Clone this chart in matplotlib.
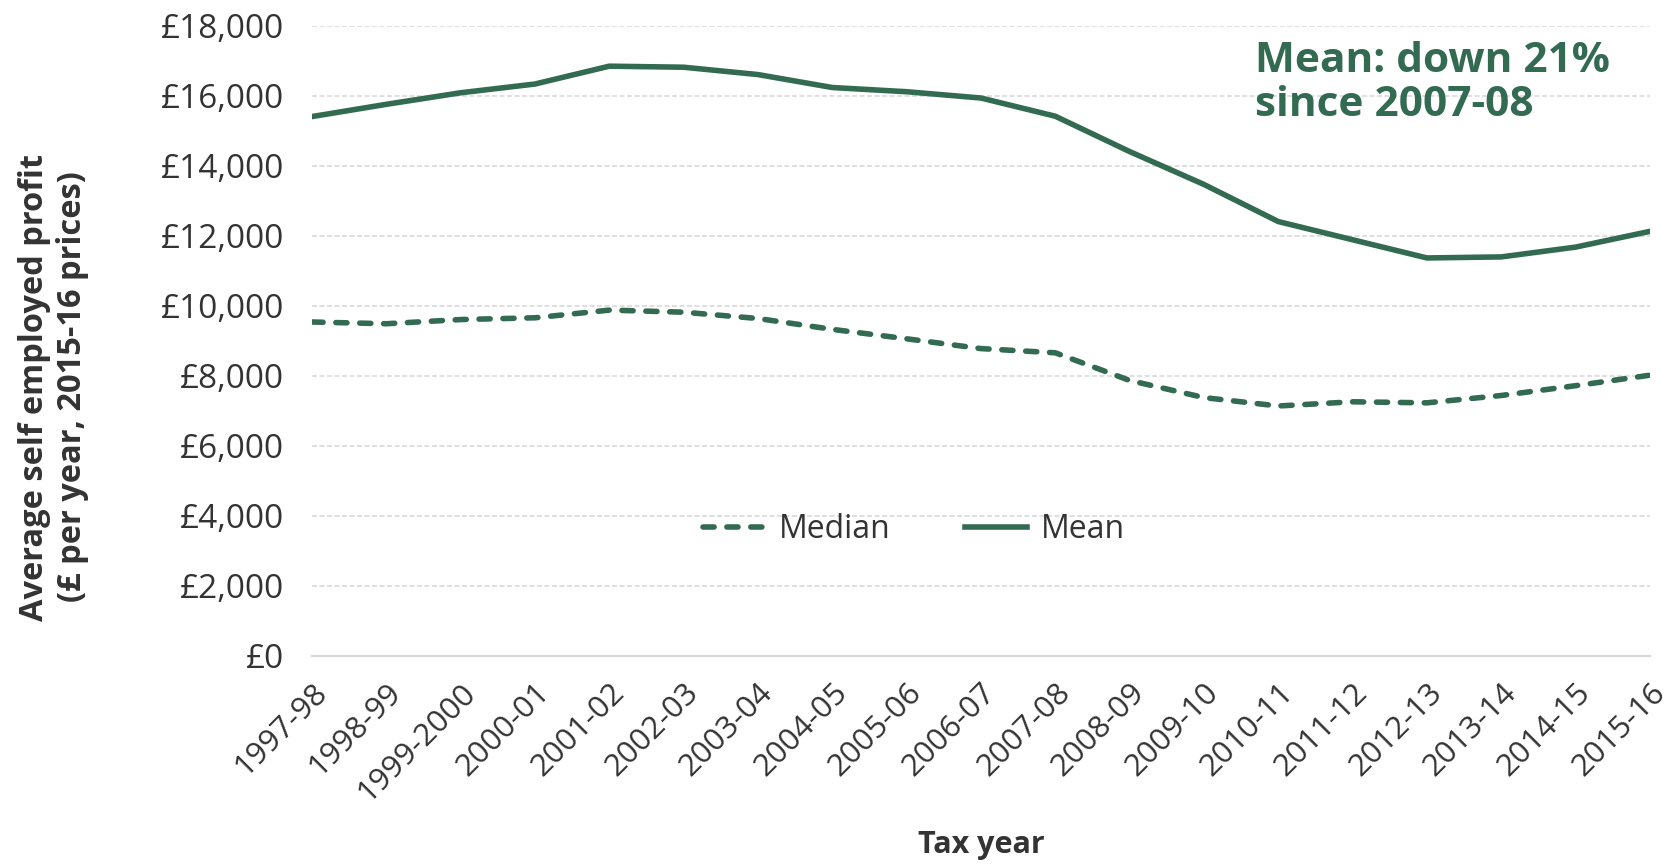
import numpy as np
import matplotlib
matplotlib.use("Agg")
import matplotlib.pyplot as plt

plt.rcParams['font.family'] = ['Open Sans', 'DejaVu Sans']

# data
years = ['1997-98', '1998-99', '1999-2000', '2000-01', '2001-02', '2002-03',
         '2003-04', '2004-05', '2005-06', '2006-07', '2007-08', '2008-09',
         '2009-10', '2010-11', '2011-12', '2012-13', '2013-14', '2014-15',
         '2015-16']
mean_profit = [15400, 15750, 16080, 16330, 16840, 16810, 16600, 16230, 16110,
               15930, 15410, 14400, 13460, 12400, 11880, 11360, 11390, 11670,
               12120]
median_profit = [9530, 9480, 9600, 9650, 9870, 9810, 9630, 9320, 9050, 8770,
                 8650, 7860, 7370, 7130, 7250, 7220, 7430, 7710, 8010]
yticks = np.arange(0, 18001, 2000)

green = '#336b52'
txt = '#333333'

fig = plt.figure(figsize=(16.71, 8.64), dpi=100)
ax = fig.add_axes([0.1867, 0.2413, 0.8007, 0.7291])

x = np.arange(len(years))
ax.plot(x, median_profit, color=green, lw=4, linestyle=(0, (2.0, 2.3)),
        dash_capstyle='round', label='Median')
ax.plot(x, mean_profit, color=green, lw=4, label='Mean')

ax.set_xlim(0, len(years) - 1)
ax.set_ylim(0, 18000)
ax.set_yticks(yticks)
ax.set_yticklabels([f'£{v:,}' for v in yticks], fontsize=24, color=txt)
ax.set_xticks(x)
ax.set_xticklabels(years, rotation=45, ha='right', rotation_mode='anchor',
                   fontsize=22.5, color=txt)
ax.tick_params(length=0)
ax.tick_params(axis='x', pad=16)
ax.tick_params(axis='y', pad=20)

ax.yaxis.grid(True, color='#d9d9d9', linestyle=(0, (3, 1.5)), lw=1.2)
ax.set_axisbelow(True)
for s in ['top', 'right', 'left']:
    ax.spines[s].set_visible(False)
ax.spines['bottom'].set_color('#d9d9d9')
ax.spines['bottom'].set_linewidth(1.6)

# axis titles placed on the figure
fig.text(0.032, 0.552, 'Average self employed profit\n(£ per year, 2015-16 prices)',
         rotation=90, ha='center', va='center', fontsize=23.5, fontweight='bold',
         color=txt, linespacing=1.2)
fig.text(0.587, 0.022, 'Tax year', ha='center', va='center', fontsize=22,
         fontweight='bold', color=txt)

ax.text(0.705, 0.975, 'Mean: down 21%\nsince 2007-08', transform=ax.transAxes,
        fontsize=30.5, fontweight='bold', color=green, va='top', ha='left',
        linespacing=1.1)

ax.legend(loc='center', bbox_to_anchor=(0.547, 0.387), bbox_transform=fig.transFigure,
          ncol=2, frameon=False, fontsize=23, handlelength=1.95, columnspacing=2.3,
          labelcolor=txt, handletextpad=0.45)

fig.savefig('out.png', dpi=100)
